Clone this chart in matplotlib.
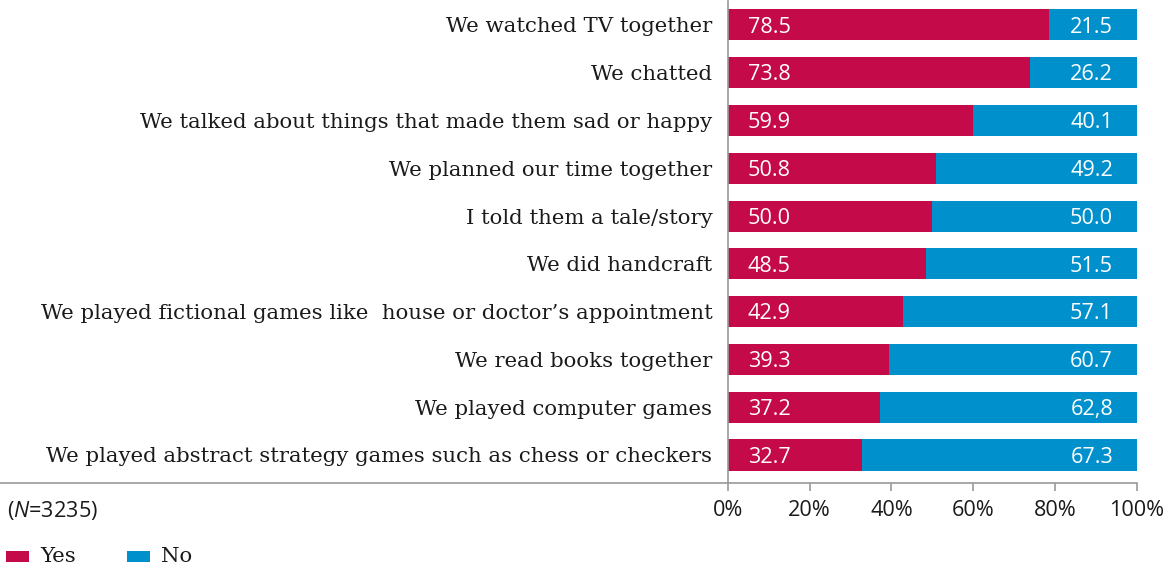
import matplotlib
matplotlib.use("Agg")
import matplotlib.pyplot as plt
from matplotlib.patches import Rectangle
from matplotlib.lines import Line2D

activities = [
    "We watched TV together",
    "We chatted",
    "We talked about things that made them sad or happy",
    "We planned our time together",
    "I told them a tale/story",
    "We did handcraft",
    "We played fictional games like  house or doctor\u2019s appointment",
    "We read books together",
    "We played computer games",
    "We played abstract strategy games such as chess or checkers",
]
yes_values = [78.5, 73.8, 59.9, 50.8, 50.0, 48.5, 42.9, 39.3, 37.2, 32.7]
no_values = [21.5, 26.2, 40.1, 49.2, 50.0, 51.5, 57.1, 60.7, 62.8, 67.3]
no_labels = ["21.5", "26.2", "40.1", "49.2", "50.0", "51.5", "57.1", "60.7", "62,8", "67.3"]
tick_values = [0, 20, 40, 60, 80, 100]
tick_labels = ["0%", "20%", "40%", "60%", "80%", "100%"]
series_names = ["Yes", "No"]

RED = "#C40A48"
BLUE = "#0090CB"
GRID = "#9A9A9A"
TEXT = "#1A1A1A"

W, H = 1168, 569
fig = plt.figure(figsize=(W / 100, H / 100), dpi=100)

plt.rcParams["mathtext.fontset"] = "custom"
plt.rcParams["mathtext.it"] = "Open Sans:italic"
plt.rcParams["mathtext.rm"] = "Open Sans"

label_font = "DejaVu Serif"
num_font = "Open Sans"
LABEL_SIZE = 15.3
NUM_SIZE = 15.6
# half the digit height in pixels, so the numbers sit centred on the bars
half_digit = NUM_SIZE * 100 / 72 * 0.714 / 2

ax_left, ax_right = 727.7, 1137.0
ax_top, ax_bottom = 1.0, 483.0
ax = fig.add_axes([ax_left / W, 1 - ax_bottom / H,
                   (ax_right - ax_left) / W, (ax_bottom - ax_top) / H])

ypos = list(range(len(activities)))
bar_h = 0.65
ax.barh(ypos, yes_values, height=bar_h, color=RED, linewidth=0)
ax.barh(ypos, no_values, left=yes_values, height=bar_h, color=BLUE, linewidth=0)

ax.set_xlim(0, 100)
ax.set_ylim(len(activities) - 1 + 0.586, -0.5)

for y, yv, nl in zip(ypos, yes_values, no_labels):
    ax.annotate(f"{yv:.1f}", (0, y), xytext=(20, -half_digit), textcoords="offset pixels",
                ha="left", va="baseline", color="white", fontsize=NUM_SIZE,
                family=num_font)
    ax.annotate(nl, (100, y), xytext=(-24, -half_digit), textcoords="offset pixels",
                ha="right", va="baseline", color="white", fontsize=NUM_SIZE,
                family=num_font)

ax.set_yticks(ypos)
ax.set_yticklabels(activities, family=label_font, fontsize=LABEL_SIZE, color=TEXT)
ax.tick_params(axis="y", length=0, pad=11)

ax.set_xticks(tick_values)
ax.set_xticklabels(tick_labels, family=num_font, fontsize=NUM_SIZE, color=TEXT)
ax.tick_params(axis="x", direction="out", length=5.5, width=1.2, color=GRID, pad=6.5)

for side in ["top", "right", "bottom"]:
    ax.spines[side].set_visible(False)
ax.spines["left"].set_color(GRID)
ax.spines["left"].set_linewidth(1.2)

# baseline running across the full width under the labels
yb = 1 - ax_bottom / H
fig.add_artist(Line2D([0, ax_right / W], [yb, yb], transform=fig.transFigure,
                      color=GRID, linewidth=1.2))

fig.text(7 / W, 1 - 510 / H, "($\\mathit{N}$=3235)", family=num_font,
         fontsize=NUM_SIZE, color=TEXT, ha="left", va="center")

# legend
for (x0, x1, xt), name, col in zip([(6, 29, 40), (127, 150, 161)], series_names, [RED, BLUE]):
    fig.add_artist(Rectangle((x0 / W, 1 - 562 / H), (x1 - x0) / W, 11 / H,
                             transform=fig.transFigure, color=col, linewidth=0))
    fig.text(xt / W, 1 - 556 / H, name, family=label_font, fontsize=LABEL_SIZE,
             color=TEXT, ha="left", va="center")

fig.savefig("out.png", dpi=100)
